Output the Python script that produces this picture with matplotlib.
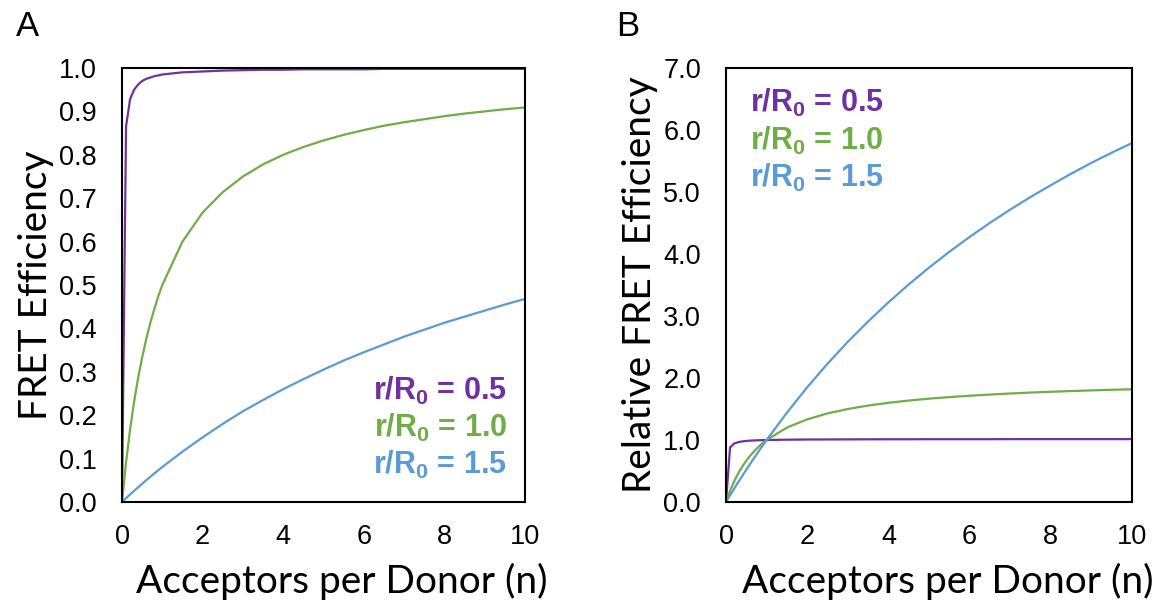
import numpy as np
import matplotlib
matplotlib.use("Agg")
import matplotlib.pyplot as plt

plt.rcParams['font.family'] = ['Liberation Sans', 'DejaVu Sans']
plt.rcParams['mathtext.fontset'] = 'custom'
plt.rcParams['mathtext.rm'] = 'Liberation Sans'
plt.rcParams['mathtext.bf'] = 'Liberation Sans:bold'

# acceptors per donor
n = [0, 0.1, 0.2, 0.3, 0.4, 0.5, 0.6, 0.7, 0.8, 0.9, 1, 1.5, 2, 2.5, 3, 3.5, 4, 4.5,
     5, 5.5, 6, 6.5, 7, 7.5, 8, 8.5, 9, 9.5, 10]

# panel A: FRET efficiency
eff_05 = [0, 0.865, 0.928, 0.950, 0.962, 0.970, 0.975, 0.978, 0.981, 0.983, 0.985,
          0.990, 0.992, 0.994, 0.995, 0.996, 0.996, 0.997, 0.997, 0.997, 0.997, 0.998,
          0.998, 0.998, 0.998, 0.998, 0.998, 0.998, 0.998]
eff_10 = [0, 0.091, 0.167, 0.231, 0.286, 0.333, 0.375, 0.412, 0.444, 0.474, 0.500,
          0.600, 0.667, 0.714, 0.750, 0.778, 0.800, 0.818, 0.833, 0.846, 0.857, 0.867,
          0.875, 0.882, 0.889, 0.895, 0.900, 0.905, 0.909]
eff_15 = [0, 0.0087, 0.0173, 0.0257, 0.0339, 0.0421, 0.0500, 0.0579, 0.0656, 0.0732, 0.0807,
          0.116, 0.149, 0.180, 0.209, 0.235, 0.260, 0.283, 0.305, 0.326, 0.345, 0.363,
          0.381, 0.397, 0.413, 0.427, 0.441, 0.455, 0.468]

# panel B: relative FRET efficiency
rel_05 = [0, 0.879, 0.943, 0.965, 0.977, 0.985, 0.990, 0.993, 0.996, 0.998, 1.0,
          1.005, 1.008, 1.009, 1.010, 1.011, 1.012, 1.012, 1.013, 1.013, 1.013, 1.013,
          1.014, 1.014, 1.014, 1.014, 1.014, 1.014, 1.014]
rel_10 = [0, 0.182, 0.333, 0.462, 0.571, 0.667, 0.750, 0.824, 0.889, 0.947, 1.0,
          1.200, 1.333, 1.429, 1.500, 1.556, 1.600, 1.636, 1.667, 1.692, 1.714, 1.733,
          1.750, 1.765, 1.778, 1.789, 1.800, 1.810, 1.818]
rel_15 = [0, 0.108, 0.214, 0.318, 0.420, 0.521, 0.620, 0.717, 0.813, 0.907, 1.0,
          1.441, 1.851, 2.230, 2.584, 2.912, 3.220, 3.509, 3.780, 4.035, 4.275, 4.502,
          4.716, 4.919, 5.110, 5.295, 5.470, 5.634, 5.790]

labels = [r'r/R$_\mathbf{0}$ = 0.5', r'r/R$_\mathbf{0}$ = 1.0', r'r/R$_\mathbf{0}$ = 1.5']
colors = ['#7030A0', '#70AD47', '#5B9BD5']

W, H = 1157, 610
fig = plt.figure(figsize=(W / 100, H / 100), dpi=100)
axA = fig.add_axes([122/W, 1-502/H, 403/W, 434/H])
axB = fig.add_axes([726/W, 1-502/H, 406/W, 434/H])

for y, c in zip([eff_05, eff_10, eff_15], colors):
    axA.plot(n, y, color=c, lw=1.6, solid_joinstyle='round')
for y, c in zip([rel_05, rel_10, rel_15], colors):
    axB.plot(n, y, color=c, lw=1.6, solid_joinstyle='round')

axA.set_ylim(0, 1.0)
axA.set_yticks(np.arange(0, 1.01, 0.1))
axA.set_yticklabels(['%.1f' % v for v in np.arange(0, 1.01, 0.1)])
axB.set_ylim(0, 7.0)
axB.set_yticks(np.arange(0, 7.01, 1.0))
axB.set_yticklabels(['%.1f' % v for v in np.arange(0, 7.01, 1.0)])

for ax in (axA, axB):
    ax.set_xlim(0, 10)
    ax.set_xticks([0, 2, 4, 6, 8, 10])
    ax.tick_params(length=0, labelsize=19.5)
    ax.tick_params(axis='y', pad=18)
    ax.tick_params(axis='x', pad=16)
    for s in ax.spines.values():
        s.set_linewidth(1.5)
    ax.set_xlabel('Acceptors per Donor (n)', fontsize=28, family='Lato',
                  labelpad=9, x=0.545)

axA.set_ylabel('FRET Efficiency', fontsize=28, family='Lato', labelpad=4)
axB.set_ylabel('Relative FRET Efficiency', fontsize=28, family='Lato', labelpad=4)

fig.text(28/W, 1-26/H, 'A', fontsize=25, va='center', ha='center')
fig.text(628/W, 1-26/H, 'B', fontsize=25, va='center', ha='center')

for i, (lab, c) in enumerate(zip(labels, colors)):
    fig.text(507/W, 1-(400+37*i)/H, lab, color=c, fontsize=22,
             fontweight='bold', ha='right', va='baseline')
    fig.text(750/W, 1-(112+37.5*i)/H, lab, color=c, fontsize=22,
             fontweight='bold', ha='left', va='baseline')

fig.savefig('out.png', dpi=100)
